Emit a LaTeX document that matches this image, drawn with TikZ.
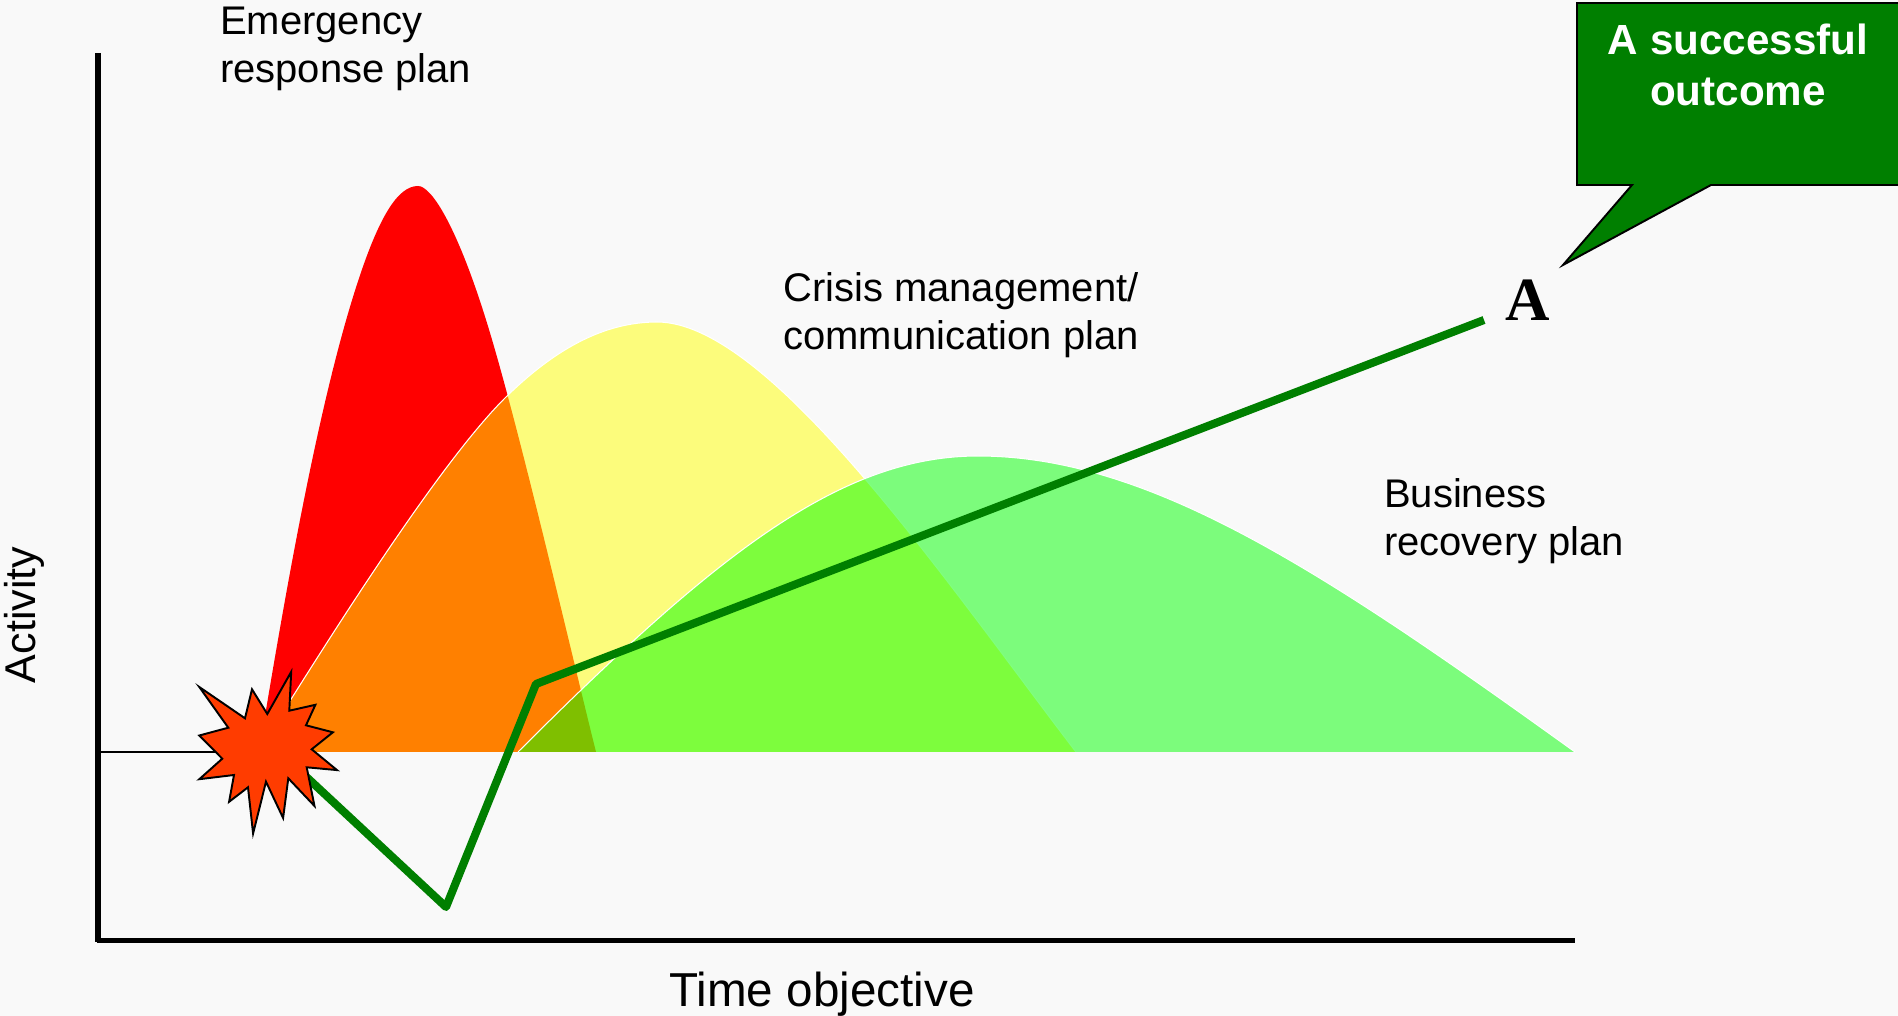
\documentclass[tikz,border=0pt]{standalone}
\usepackage{fontspec}
\setmainfont{Liberation Sans}
\newfontfamily\serifA{Liberation Serif}
\definecolor{pagegray}{HTML}{F9F9F9}
\definecolor{calloutgreen}{HTML}{007F00}
\definecolor{blastred}{HTML}{FF3C00}
\definecolor{planred}{HTML}{FF0000}
\definecolor{planyellow}{HTML}{FFFF00}
\definecolor{plangreen}{HTML}{00FF00}
\tikzset{
  axisline/.style={black, line width=3pt},
  planlabel/.style={anchor=west, align=left, font=\fontsize{22.75}{27.3}\selectfont},
  edgewhite/.style={white, line width=0.6pt},
  outcomeline/.style={calloutgreen, line width=4.6pt, line join=round}
}
\begin{document}
\begin{tikzpicture}[x=0.02cm,y=-0.02cm]
\fill[pagegray] (0,0) rectangle (1898,1016);
\useasboundingbox (0,0) rectangle (1898,1016);

%Curves
\fill[planred] (259,752) .. controls (279,632) and (312.7,427) .. (353,297)
  .. controls (378,216) and (398,186) .. (418,186)
  .. controls (432,186) and (458,229) .. (487,323)
  .. controls (518,423) and (571,652) .. (596,752) -- cycle;
\fill[planyellow, fill opacity=0.5] (258,752) .. controls (318,656) and (436,466) .. (506,397)
  .. controls (556,348) and (605,322) .. (657,322)
  .. controls (770,322) and (946,582) .. (1076,752) -- cycle;
\draw[edgewhite] (258,752) .. controls (318,656) and (436,466) .. (506,397)
  .. controls (556,348) and (605,322) .. (657,322)
  .. controls (770,322) and (946,582) .. (1076,752);
\fill[plangreen, fill opacity=0.5] (518,752) .. controls (715,555) and (840,456) .. (978,456)
  .. controls (1150,456) and (1325,572) .. (1575,752) -- cycle;
\draw[edgewhite] (518,752) .. controls (715,555) and (840,456) .. (978,456)
  .. controls (1150,456) and (1325,572) .. (1575,752);

%Axes
\draw[axisline] (98,53) -- (98,942);
\draw[axisline] (97,940.5) -- (1575,940.5);
\draw[black, line width=1.1pt] (98,752) -- (230,752);

%Outcome
\coordinate (blastout) at (300,771);
\coordinate (lowpoint) at (446,907);
\coordinate (bendpoint) at (536,684);
\coordinate (lineend) at (1484,320);
\draw[outcomeline] (blastout) -- (lowpoint) -- (bendpoint) -- (lineend);

%Blast
\draw[fill=blastred, line width=1.1pt, miter limit=10] (199.3,687) -- (245,718.3) -- (252,689.3) -- (267.3,714)
  -- (291.2,671.8) -- (289.3,710.7) -- (315.4,704.8) -- (306,725.3) -- (332.9,732.3) -- (311.7,749.3)
  -- (337,770.1) -- (306.7,767.3) -- (314.5,806) -- (288.3,778.3) -- (283.1,818) -- (266,781.7)
  -- (253.1,833.5) -- (248,787.3) -- (229.1,801.8) -- (234,775) -- (199.3,779.2) -- (222.3,758.7)
  -- (199.3,735.5) -- (228.3,727.7) -- cycle;

%Callout
\draw[fill=calloutgreen, line width=1.1pt, miter limit=20] (1577,3) -- (1905,3) -- (1905,185) -- (1711,185)
  -- (1563,265) -- (1632,185) -- (1577,185) -- cycle;
\node[white, align=center, font=\fontsize{24}{29}\bfseries\selectfont] (outcome) at (1738,65) {A successful\\outcome};
\node[font=\fontsize{35}{40}\bfseries\serifA\selectfont] (pointA) at (1528,300) {A};

%Labels
\node[planlabel] (emergency) at (214,49) {Emergency\\response plan};
\node[planlabel] (crisis) at (777,315) {Crisis management/\\communication plan};
\node[planlabel] (business) at (1378,521) {Business\\recovery plan};
\node[font=\fontsize{24.5}{28}\selectfont, rotate=90] (activity) at (24,615) {Activity};
\node[font=\fontsize{27.1}{30}\selectfont] (timeobj) at (822,994) {Time objective};
\end{tikzpicture}
\end{document}
